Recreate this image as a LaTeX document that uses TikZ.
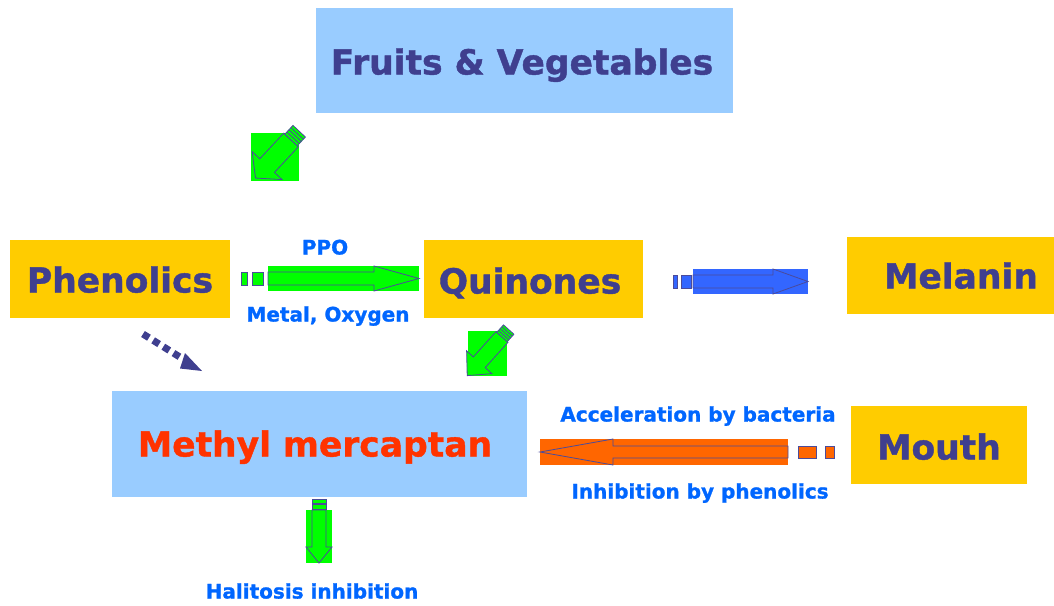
\documentclass[tikz,border=0pt]{standalone}
\usepackage{fontspec}
\setmainfont{DejaVu Sans}
\newfontfamily\heavy{DejaVu Sans}[UprightFont={* Bold}, FakeBold=1.2]
\definecolor{ybg}{HTML}{FFCC00}
\definecolor{lbg}{HTML}{99CCFF}
\definecolor{dtxt}{HTML}{3F3F8F}
\definecolor{rtxt}{HTML}{FF3300}
\definecolor{btxt}{HTML}{0066FF}
\definecolor{grn}{HTML}{00FF00}
\definecolor{blu}{HTML}{3366FF}
\definecolor{org}{HTML}{FF6600}
\definecolor{outl}{HTML}{4B4B9B}
\tikzset{
  ybox/.style={fill=ybg, draw=none, inner sep=0pt},
  lbox/.style={fill=lbg, draw=none, inner sep=0pt},
  big/.style={font=\heavy\fontsize{34.5}{38}\selectfont, text=dtxt, inner sep=0pt, text height=25pt, text depth=0pt},
  lab/.style={font=\heavy\fontsize{20}{22}\selectfont, text=btxt, inner sep=0pt, text height=15pt, text depth=0pt},
  arrline/.style={draw=outl, line width=0.8pt, line join=miter},
}
\begin{document}
\begin{tikzpicture}[x=1pt,y=-1pt]
\useasboundingbox (0,0) rectangle (1054,605);
% boxes
\node[lbox, minimum width=417pt, minimum height=105pt] (fvbox) at (524.5,60.5) {};
\node[ybox, minimum width=220pt, minimum height=78pt] (phbox) at (120,279) {};
\node[ybox, minimum width=219pt, minimum height=78pt] (qubox) at (533.5,279) {};
\node[ybox, minimum width=207pt, minimum height=77pt] (mebox) at (950.5,275.5) {};
\node[lbox, minimum width=415pt, minimum height=106pt] (mmbox) at (319.5,444) {};
\node[ybox, minimum width=176pt, minimum height=78pt] (mobox) at (939,445) {};
% texts
\node[big] (fv) at (522,62) {Fruits \& Vegetables};
\node[big] (ph) at (120,280) {Phenolics};
\node[big] (qu) at (530,281) {Quinones};
\node[big] (me) at (961,276) {Melanin};
\node[big, text=rtxt] (mm) at (315,444) {Methyl mercaptan};
\node[big] (mo) at (939,447) {Mouth};
\node[lab] (ppo) at (325,247) {PPO};
\node[lab] (mox) at (328,314) {Metal, Oxygen};
\node[lab] (acc) at (698,414) {Acceleration by bacteria};
\node[lab] (inh) at (700,491) {Inhibition by phenolics};
\node[lab] (hal) at (312,591) {Halitosis inhibition};
% PPO arrow (Phenolics -> Quinones)
\fill[grn] (268,266) rectangle (419,291);
\draw[arrline, fill=grn] (268,272) -- (374,272) -- (374,266) -- (419,278.5) -- (374,291) -- (374,285) -- (268,285) -- cycle;
\draw[arrline, fill=grn] (241,272) rectangle (247,285);
\draw[arrline, fill=grn] (252,272) rectangle (263,285);
% blue arrow (Quinones -> Melanin)
\fill[blu] (693,269) rectangle (808,294);
\draw[arrline, fill=blu] (693,275) -- (773,275) -- (773,269) -- (808,281.5) -- (773,294) -- (773,288) -- (693,288) -- cycle;
\draw[arrline, fill=blu] (673,275) rectangle (677,288);
\draw[arrline, fill=blu] (681,275) rectangle (691,288);
% orange arrow (Mouth -> Methyl mercaptan)
\fill[org] (540,439) rectangle (788,465);
\draw[arrline, fill=org] (788,446) -- (613,446) -- (613,439) -- (540,452) -- (613,465) -- (613,458) -- (788,458) -- cycle;
\draw[arrline, fill=org] (798,446) rectangle (816,458);
\draw[arrline, fill=org] (825,446) rectangle (834,458);
% down arrow (Methyl mercaptan -> Halitosis inhibition)
\fill[grn] (306,510) rectangle (332,563);
\draw[arrline, fill=grn] (312,510) -- (312,547) -- (306,547) -- (319,563) -- (332,547) -- (326,547) -- (326,510) -- cycle;
\draw[arrline, fill=grn] (312,499) rectangle (326,503.5);
\draw[arrline, fill=grn] (312,504.5) rectangle (326,509);
% diagonal arrow (Fruits -> Phenolics)
\fill[grn] (251,133) rectangle (299,181);
\begin{scope}[shift={(291,140)}, rotate=-133]
  \draw[arrline, fill=grn] (0,-10) -- (35,-10) -- (35,-20.5) -- (52,0) -- (35,20.5) -- (35,10) -- (0,10) -- cycle;
  \draw[arrline, fill=grn] (-12,-8.5) rectangle (0,8.5);
  \draw[arrline] (-3,-8.5) -- (-3,8.5) (-6,-8.5) -- (-6,8.5) (-9,-8.5) -- (-9,8.5);
\end{scope}
% diagonal arrow (Quinones -> Methyl mercaptan)
\fill[grn] (468,331) rectangle (507,376);
\begin{scope}[shift={(502,337)}, rotate=-132]
  \draw[arrline, fill=grn] (0,-8) -- (34,-8) -- (34,-17) -- (52,0) -- (34,17) -- (34,8) -- (0,8) -- cycle;
  \draw[arrline, fill=grn] (-10,-7) rectangle (0,7);
  \draw[arrline] (-2.5,-7) -- (-2.5,7) (-5,-7) -- (-5,7) (-7.5,-7) -- (-7.5,7);
\end{scope}
% dashed arrow (Phenolics -> Methyl mercaptan)
\coordinate (ds) at (143,334);
\coordinate (de) at (183,359);
\draw[dtxt, line width=7pt, dash pattern=on 7pt off 5pt] (ds) -- (de);
\fill[dtxt] (185,353) -- (202,371) -- (180,368.5) -- cycle;
\end{tikzpicture}
\end{document}
